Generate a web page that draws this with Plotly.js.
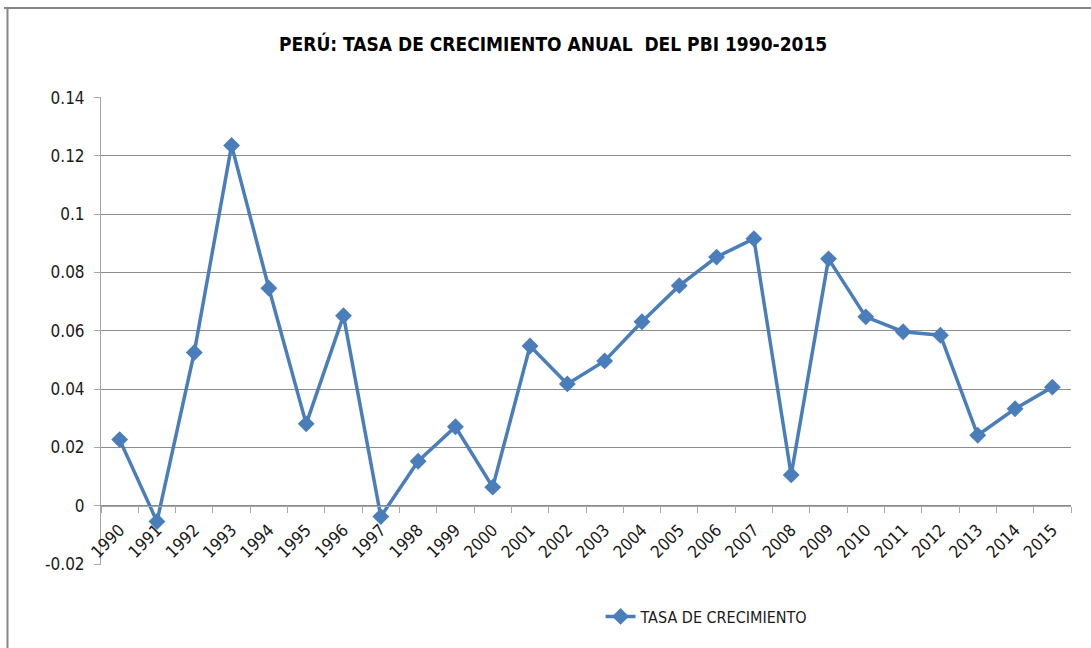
<!DOCTYPE html>
<html>
<head>
<meta charset="utf-8">
<script src="https://cdn.plot.ly/plotly-3.0.1.min.js"></script>
<style>
html,body{margin:0;padding:0;background:#fff;}
#chart{width:1091px;height:648px;}
</style>
</head>
<body>
<div id="chart"></div>
<script>
const years = ["1990","1991","1992","1993","1994","1995","1996","1997","1998","1999","2000","2001","2002","2003","2004","2005","2006","2007","2008","2009","2010","2011","2012","2013","2014","2015"];
const tasa = [0.0227,-0.0054,0.0526,0.1236,0.0746,0.0281,0.0652,-0.0037,0.0153,0.0271,0.0064,0.0548,0.0418,0.0497,0.0631,0.0755,0.0853,0.0916,0.0106,0.0847,0.0648,0.0597,0.0585,0.0242,0.0333,0.0407];
const yTicks = [-0.02,0,0.02,0.04,0.06,0.08,0.1,0.12,0.14];
const yTickText = ["-0.02","0","0.02","0.04","0.06","0.08","0.1","0.12","0.14"];

const FONT = '"DejaVu Sans Condensed", "Liberation Sans Narrow", Arial, sans-serif';

const trace = {
  x: years, y: tasa, type: 'scatter', mode: 'lines+markers',
  name: 'TASA DE CRECIMIENTO',
  line: {color: '#4a7ebb', width: 3.5},
  marker: {symbol: 'diamond', size: 13, color: '#4a7ebb'}
};

const layout = {
  width: 1091, height: 648,
  margin: {l: 101, r: 20, t: 97, b: 83},
  paper_bgcolor: '#fff', plot_bgcolor: '#fff',
  font: {family: FONT, size: 16, color: '#1a1a1a'},
  title: {text: '<b>PERÚ: TASA DE CRECIMIENTO ANUAL  DEL PBI 1990-2015</b>',
          font: {family: FONT, size: 19, color: '#000'},
          x: 0.507, xanchor: 'center', y: 0.932, yanchor: 'middle'},
  xaxis: {
    type: 'category', tickangle: -45,
    anchor: 'free', position: 0.1271,
    showline: true, linecolor: '#a6a6a6', linewidth: 1,
    ticks: 'outside', tickson: 'boundaries', ticklen: 6, tickcolor: '#a6a6a6',
    showgrid: false, zeroline: false, ticklabelstandoff: 7,
    tickfont: {family: FONT, size: 17, color: '#1a1a1a'},
    range: [-0.5, 25.5]
  },
  yaxis: {
    range: [-0.0203, 0.1402], tickvals: yTicks, ticktext: yTickText,
    showline: true, linecolor: '#a6a6a6', linewidth: 1,
    ticks: 'outside', ticklen: 6, tickcolor: '#a6a6a6',
    showgrid: true, gridcolor: '#8c8c8c', gridwidth: 1,
    zeroline: false, ticklabelstandoff: 6,
    tickfont: {family: FONT, size: 17, color: '#1a1a1a'}
  },
  showlegend: true,
  legend: {orientation: 'h', x: 0.515, xanchor: 'left', y: -0.11, yanchor: 'middle',
           font: {family: FONT, size: 16, color: '#1a1a1a'}},
  shapes: [
    {type: 'line', xref: 'paper', yref: 'paper', x0: -0.1, x1: 1.05, y0: 1.19, y1: 1.19,
     line: {color: '#868686', width: 2}},
    {type: 'line', xref: 'paper', yref: 'paper', x0: -0.0964, x1: -0.0964, y0: 1.19, y1: -0.2,
     line: {color: '#868686', width: 2}}
  ]
};

Plotly.newPlot('chart', [trace], layout, {displayModeBar: false, staticPlot: true});
</script>
</body>
</html>
